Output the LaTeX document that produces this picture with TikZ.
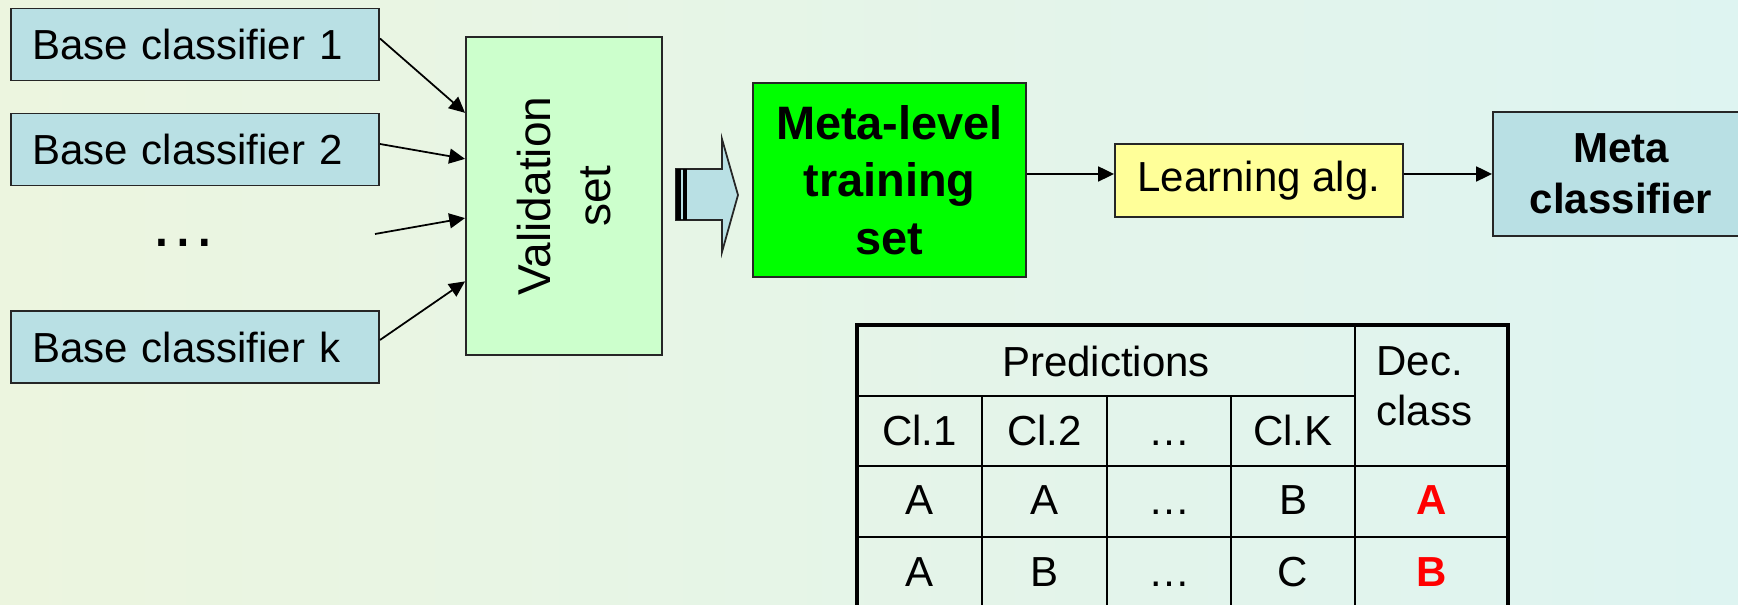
\documentclass[tikz,border=0pt]{standalone}
\usepackage{fontspec}
\setmainfont{Liberation Sans}
\usetikzlibrary{arrows.meta,calc}

\definecolor{clsblue}{RGB}{185,224,228}
\definecolor{valgreen}{RGB}{204,255,204}
\definecolor{traingreen}{RGB}{0,255,0}
\definecolor{algyellow}{RGB}{255,255,153}
\definecolor{bgleft}{RGB}{236,245,223}
\definecolor{bgright}{RGB}{222,244,241}

\tikzset{
  boxline/.style={draw=black!85, line width=1.1pt},
  clsbox/.style={boxline, fill=clsblue, minimum height=1.44cm, text width=6.52cm,
    inner xsep=0.42cm, align=left, font=\fontsize{23.9}{29}\selectfont},
  valbox/.style={boxline, fill=valgreen, rotate=90, minimum width=6.36cm,
    minimum height=3.92cm, align=center, font=\fontsize{26.2}{34.1}\selectfont},
  trainbox/.style={boxline, fill=traingreen, minimum width=5.46cm, minimum height=3.88cm,
    align=center, font=\fontsize{26.7}{32.7}\selectfont\bfseries},
  algbox/.style={boxline, fill=algyellow, minimum width=5.76cm, minimum height=1.46cm,
    font=\fontsize{23.9}{29}\selectfont},
  metabox/.style={boxline, fill=clsblue, minimum width=5.12cm, minimum height=2.48cm,
    align=center, font=\fontsize{23.9}{29}\selectfont\bfseries},
  arr/.style={-{Triangle[length=9pt,width=8.5pt]}, line width=1pt},
  tabthin/.style={line width=1.4pt},
  tabthick/.style={line width=2.6pt},
  cell/.style={anchor=base, inner sep=0pt, font=\fontsize{23.9}{28.5}\selectfont},
  redcell/.style={cell, text=red, font=\fontsize{23.9}{28.5}\selectfont\bfseries}
}

\begin{document}
\begin{tikzpicture}
  \useasboundingbox (0,0) rectangle (34.76,12.1);
  \clip (0,0) rectangle (34.76,12.1);
  \shade[left color=bgleft, right color=bgright] (0,0) rectangle (34.76,12.1);

  \node[clsbox] (bc1) at (3.90,11.21) {Base classifier 1};
  \node[clsbox] (bc2) at (3.90,9.11) {Base classifier 2};
  \node[font=\fontsize{38.5}{40}\selectfont, inner sep=0pt] (dots) at (3.67,7.24) {…};
  \node[clsbox] (bck) at (3.90,5.16) {Base classifier k};
  \coordinate (dotsout) at (7.50,7.42);

  \node[valbox] (val) at (11.28,8.18) {Validation\\set};

  % rotated node: north east is its upper left corner, north west its lower left
  \draw[arr] ([yshift=0.12cm]bc1.east) -- ($(val.north east)!0.24!(val.north west)$);
  \draw[arr] ([yshift=0.11cm]bc2.east) -- ($(val.north east)!0.384!(val.north west)$);
  \draw[arr] (dotsout) -- ($(val.north east)!0.569!(val.north west)$);
  \draw[arr] ([yshift=0.14cm]bck.east) -- ($(val.north east)!0.767!(val.north west)$);

  \draw[boxline, line width=1pt, fill=clsblue] (13.52,8.72) -- (14.44,8.72) -- (14.44,9.32)
    -- (14.76,8.20) -- (14.44,7.06) -- (14.44,7.70) -- (13.52,7.70) -- cycle;
  \fill[black] (13.52,7.70) rectangle (13.62,8.72);
  \fill[black] (13.66,7.70) rectangle (13.74,8.72);

  \node[trainbox] (ml) at (17.79,8.50) {Meta-level\\training\\set};
  \node[algbox] (lrn) at (25.18,8.49) {Learning alg.};
  \node[metabox] (mc) at (32.42,8.62) {Meta\\classifier};

  \draw[arr] ([yshift=0.12cm]ml.east) -- ([yshift=0.13cm]lrn.west);
  \draw[arr] ([yshift=0.13cm]lrn.east) -- (mc.west);

  \draw[tabthin] (17.14,4.18) -- (27.10,4.18);
  \draw[tabthin] (17.14,2.78) -- (30.16,2.78);
  \draw[tabthin] (17.14,1.36) -- (30.16,1.36);
  \draw[tabthin] (19.64,4.18) -- (19.64,-0.5);
  \draw[tabthin] (22.14,4.18) -- (22.14,-0.5);
  \draw[tabthin] (24.62,4.18) -- (24.62,-0.5);
  \draw[tabthin] (27.10,5.60) -- (27.10,-0.5);
  \draw[tabthick] (17.14,-0.5) -- (17.14,5.60) -- (30.16,5.60) -- (30.16,-0.5);

  \node[cell] (pred) at (22.12,4.56) {Predictions};
  \node[cell, anchor=north west, align=left] (dec) at (27.52,5.18) {Dec.\\class};
  \node[cell] (cl1) at (18.39,3.18) {Cl.1};
  \node[cell] (cl2) at (20.89,3.18) {Cl.2};
  \node[cell] (cldots) at (23.38,3.18) {…};
  \node[cell] (clk) at (25.86,3.18) {Cl.K};
  \node[cell] (r1c1) at (18.39,1.80) {A};
  \node[cell] (r1c2) at (20.89,1.80) {A};
  \node[cell] (r1dots) at (23.38,1.80) {…};
  \node[cell] (r1ck) at (25.86,1.80) {B};
  \node[redcell] (r1dec) at (28.63,1.80) {A};
  \node[cell] (r2c1) at (18.39,0.36) {A};
  \node[cell] (r2c2) at (20.89,0.36) {B};
  \node[cell] (r2dots) at (23.38,0.36) {…};
  \node[cell] (r2ck) at (25.86,0.36) {C};
  \node[redcell] (r2dec) at (28.63,0.36) {B};
\end{tikzpicture}
\end{document}
